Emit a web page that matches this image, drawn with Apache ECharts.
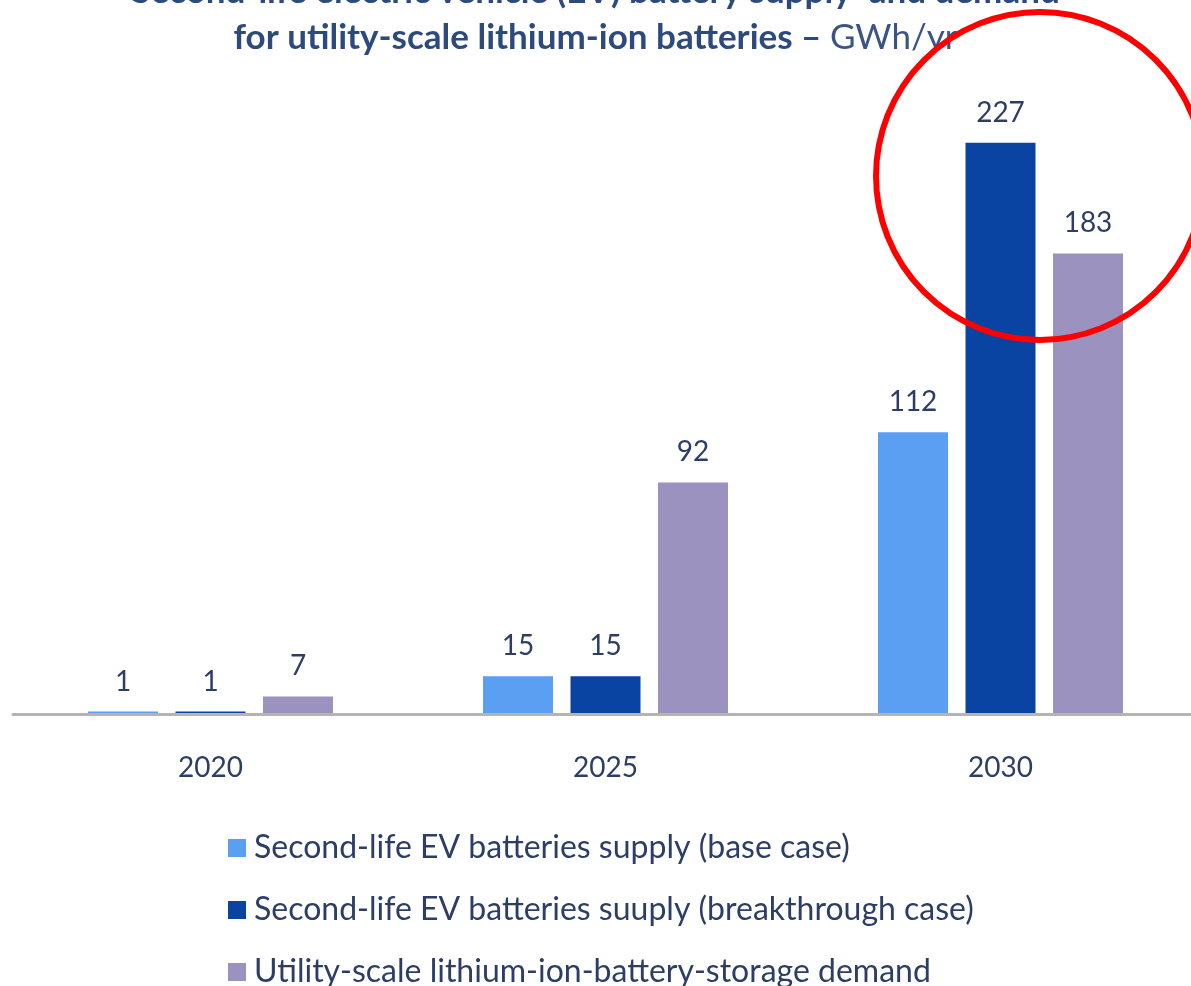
<!DOCTYPE html>
<html>
<head>
<meta charset="utf-8">
<script src="https://cdn.jsdelivr.net/npm/echarts@6/dist/echarts.min.js"></script>
<style>
html,body{margin:0;padding:0;background:#fff;}
#chart{width:1191px;height:986px;}
</style>
</head>
<body>
<div id="chart"></div>
<script>
const categories = ['2020', '2025', '2030'];
const seriesNames = [
  'Second-life EV batteries supply (base case)',
  'Second-life EV batteries suuply (breakthrough case)',
  'Utility-scale lithium-ion-battery-storage demand'
];
const baseCase = [1, 15, 112];
const breakthroughCase = [1, 15, 227];
const storageDemand = [7, 92, 183];
const colors = ['#5b9ff3', '#0a44a3', '#9b92c0'];

const FONT = 'Lato, "Open Sans", sans-serif';
const textColor = '#2c3d66';

const chart = echarts.init(document.getElementById('chart'));
const labelCfg = {
  show: true,
  position: 'top',
  distance: 16,
  color: textColor,
  fontSize: 28,
  fontFamily: FONT
};
function mkSeries(name, data, color) {
  return {
    name: name,
    type: 'bar',
    data: data,
    barWidth: 70,
    barGap: '25%',
    itemStyle: { color: color },
    label: labelCfg,
    z: 2
  };
}
chart.setOption({
  animation: false,
  backgroundColor: '#ffffff',
  title: {
    text: '{b|Second-life electric vehicle (EV) battery supply  and demand}\n{b|for utility-scale lithium-ion batteries – }{n|GWh/yr}',
    left: 'center',
    top: -31,
    padding: 0,
    textStyle: {
      rich: {
        b: { fontFamily: FONT, fontWeight: 'bold', fontSize: 35, color: '#2d4a7d', lineHeight: 46 },
        n: { fontFamily: FONT, fontWeight: 'normal', fontSize: 35, color: '#3a5585', lineHeight: 46 }
      }
    }
  },
  legend: {
    orient: 'vertical',
    left: 228,
    top: 832,
    height: 200,
    padding: 0,
    itemWidth: 18,
    itemHeight: 18,
    itemGap: 30,
    icon: 'rect',
    textStyle: { fontFamily: FONT, fontSize: 32, color: textColor, lineHeight: 30, padding: [0, 0, 0, 3] },
    data: seriesNames
  },
  grid: { left: 13, width: 1185, top: 110, height: 604, outerBoundsMode: 'none' },
  xAxis: {
    type: 'category',
    data: categories,
    z: 5,
    axisLine: { show: true, lineStyle: { color: '#b4b4b4', width: 3 } },
    axisTick: { show: false },
    axisLabel: { color: textColor, fontSize: 28, fontFamily: FONT, margin: 40 }
  },
  yAxis: {
    type: 'value',
    min: 0,
    max: 240,
    show: false,
    splitLine: { show: false }
  },
  series: [
    mkSeries(seriesNames[0], baseCase, colors[0]),
    mkSeries(seriesNames[1], breakthroughCase, colors[1]),
    mkSeries(seriesNames[2], storageDemand, colors[2])
  ],
  graphic: [{
    type: 'circle',
    shape: { cx: 1040, cy: 176, r: 164 },
    style: { fill: 'none', stroke: '#ff0000', lineWidth: 6 },
    z: 100
  }]
});
</script>
</body>
</html>
